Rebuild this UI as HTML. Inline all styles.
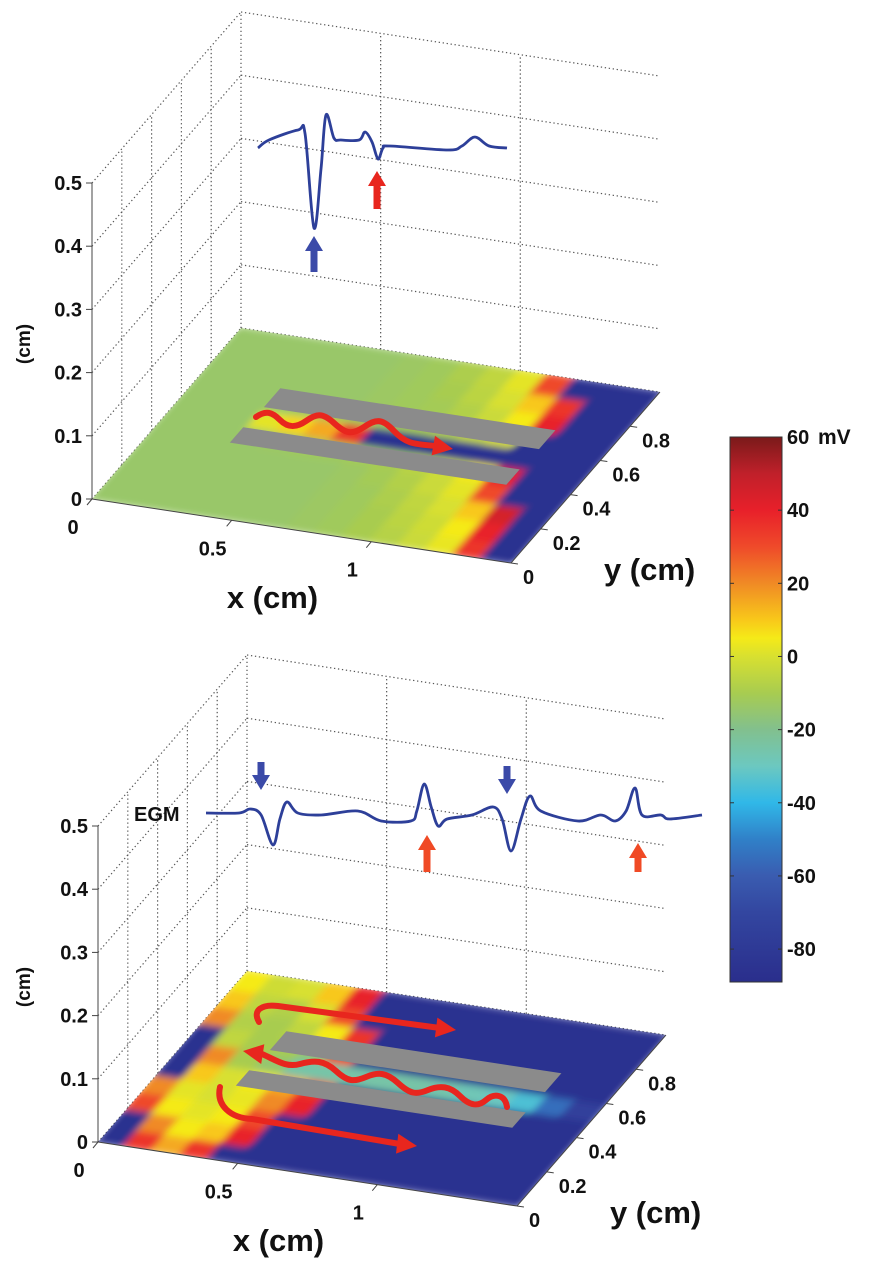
<!DOCTYPE html>
<html><head><meta charset="utf-8">
<style>
html,body{margin:0;padding:0;background:#fff;}
svg{display:block;font-family:"Liberation Sans",Arial,sans-serif;font-weight:bold;}
</style></head>
<body>
<svg id="fig" width="874" height="1282" viewBox="0 0 874 1282" xmlns="http://www.w3.org/2000/svg">
<defs>
<filter id="blur" x="-5%" y="-5%" width="110%" height="110%"><feGaussianBlur stdDeviation="0.014 0.02"/></filter>
<linearGradient id="cbgrad" x1="0" y1="0" x2="0" y2="1"></linearGradient>
</defs>
</svg>
<script>
// ---- data ----
var zTicks = [0, 0.1, 0.2, 0.3, 0.4, 0.5];
var xTicks = [0, 0.5, 1];
var xTickLabels = ["0", "0.5", "1"];
var yTicks = [0, 0.2, 0.4, 0.6, 0.8];
var cbTicks = [60, 40, 20, 0, -20, -40, -60, -80];
// heat grid: rows v = 0.05..0.95, cols u = 0.05..1.45 (mV)
var heatTop = [
[-14,-14,-14,-14,-14,-14,-14,-13,-12,-10,-7,-3,3,35,-85],
[-14,-14,-14,-14,-14,-14,-14,-13,-12,-10,-6,-2,5,40,-85],
[-14,-14,-14,-14,-14,-14,-14,-13,-12,-9,-5,0,10,45,-85],
[-14,-14,-14,-14,-14,-14,-14,-13,-11,-8,-3,2,30,-85,-85],
[-14,-14,-14,-14,-13,-12,-12,-11,-10,-6,-2,5,40,-85,-85],
[-14,-14,-14,2,8,15,35,-85,-85,-85,-85,-85,-85,-85,-85],
[-14,-14,-14,-14,-13,-12,-12,-11,-10,-8,-4,0,-85,-85,-85],
[-14,-14,-14,-14,-14,-14,-13,-12,-11,-8,-3,5,40,-85,-85],
[-14,-14,-14,-14,-14,-14,-13,-12,-10,-6,0,10,35,-85,-85],
[-14,-14,-14,-14,-14,-14,-13,-12,-9,-5,2,30,-85,-85,-85]
];
var heatBottom = [
[-85,35,15,35,-85,-85,-85,-85,-85,-85,-85,-85,-85,-85,-85],
[-85,20,5,10,40,-85,-85,-85,-85,-85,-85,-85,-85,-85,-85],
[30,5,2,5,30,-85,-85,-85,-85,-85,-85,-85,-85,-85,-85],
[20,2,0,3,20,40,-85,-85,-85,-85,-85,-85,-85,-85,-85],
[-85,10,0,5,15,35,-85,-85,-85,-85,-85,-85,-85,-85,-85],
[-85,20,-10,-15,-25,-25,-25,-25,-25,-26,-28,-30,-35,-55,-75],
[-85,-5,-10,-10,-15,30,-85,-85,-85,-85,-85,-85,-85,-85,-85],
[20,-8,-10,-5,5,35,-85,-85,-85,-85,-85,-85,-85,-85,-85],
[10,-5,-8,0,30,-85,-85,-85,-85,-85,-85,-85,-85,-85,-85],
[5,-2,0,10,40,-85,-85,-85,-85,-85,-85,-85,-85,-85,-85]
];
var egmTopT = [0,4.4,16.1,18.9,22.5,25.3,27.3,30.5,33.3,40.6,43,45.8,48.2,50.2,53,76.3,81.9,87.1,92.8,100];
var egmTopA = [0,8,18,14,-80,-21,33,10,8,8,16,6,-11,0,2,-2,2,11,2,0];
var egmBotT = [0,6.7,8.9,11.1,13.5,14.9,16.3,18.5,23.2,30.6,35.3,41.3,42.5,44,45.4,46.8,48.6,53.6,57.9,59.7,61.5,63.5,65.3,67.5,75,79.6,82.5,84.7,86.5,87.9,91.7,93.5,100];
var egmBotA = [2,2,6,0,-30,-4,13,2,0,4,-6,-6,4,31,8,-11,-4,0,8,-4,-36,-4,19,4,-6,0,-6,4,27,0,0,-4,0];
var barsUV = [[0.29,1.275,0.61,0.72],[0.28,1.27,0.40,0.49]];

// ---- colormap ----
var cmapV = [60,50,40,30,20,10,5,0,-10,-20,-30,-40,-50,-60,-70,-89];
var cmapC = ["#7a1a1a","#c0202a","#e8202a","#ef4a2a","#f08a25","#f8c81a","#f5ea18","#d8e030","#a8cc50","#82c08e","#6cc8c0","#30b8e8","#3080c8","#3a5cb0","#3346a0","#2a2e8c"];
function hex(c){return [parseInt(c.substr(1,2),16),parseInt(c.substr(3,2),16),parseInt(c.substr(5,2),16)];}
function cmap(v){
  if(v>=cmapV[0]) return cmapC[0];
  for(var i=0;i<cmapV.length-1;i++){
    if(v<=cmapV[i]&&v>=cmapV[i+1]){
      var t=(cmapV[i]-v)/(cmapV[i]-cmapV[i+1]);var a=hex(cmapC[i]),b=hex(cmapC[i+1]);
      return "rgb("+Math.round(a[0]+(b[0]-a[0])*t)+","+Math.round(a[1]+(b[1]-a[1])*t)+","+Math.round(a[2]+(b[2]-a[2])*t)+")";
    }
  }
  return cmapC[cmapC.length-1];
}

var NS="http://www.w3.org/2000/svg";
var svg=document.getElementById('fig');
function mk(tag,attrs,parent){var e=document.createElementNS(NS,tag);for(var k in attrs)e.setAttribute(k,attrs[k]);(parent||svg).appendChild(e);return e;}

var EX=[279.3,42.7],EY=[149,-171],EZ=[0,-632];
function proj(O,u,v,z){return [O[0]+u*EX[0]+v*EY[0]+z*EZ[0],O[1]+u*EX[1]+v*EY[1]+z*EZ[1]];}
function pts(a){return a.map(function(p){return p[0].toFixed(1)+","+p[1].toFixed(1);}).join(" ");}
function smooth(P){
  var d="M"+P[0][0]+","+P[0][1];
  for(var i=0;i<P.length-1;i++){
    var p0=P[Math.max(0,i-1)],p1=P[i],p2=P[i+1],p3=P[Math.min(P.length-1,i+2)];
    var c1=[p1[0]+(p2[0]-p0[0])/6,p1[1]+(p2[1]-p0[1])/6],c2=[p2[0]-(p3[0]-p1[0])/6,p2[1]-(p3[1]-p1[1])/6];
    d+=" C"+c1[0].toFixed(1)+","+c1[1].toFixed(1)+" "+c2[0].toFixed(1)+","+c2[1].toFixed(1)+" "+p2[0].toFixed(1)+","+p2[1].toFixed(1);
  }
  return d;
}
function blockArrow(x,tipY,baseY,color,name){
  var dir=baseY>tipY?1:-1;var hl=15*dir;
  var P=[[x,tipY],[x+9,tipY+hl],[x+3.5,tipY+hl],[x+3.5,baseY],[x-3.5,baseY],[x-3.5,tipY+hl],[x-9,tipY+hl]];
  var e=mk('polygon',{points:pts(P),fill:color});
  
  
}

function panel(O,heat,id,egmT,egmA,egmX0,egmX1,egmY0){
  var g=mk('g',{});
  
  
  var dot={stroke:"#555","stroke-width":1.2,"stroke-dasharray":"1.3 2.7",fill:"none"};
  zTicks.forEach(function(z){var a=proj(O,0,1,z),b=proj(O,1.5,1,z);var l=mk('line',Object.assign({x1:a[0],y1:a[1],x2:b[0],y2:b[1]},dot),g);
    
    });
  [0,0.5,1].forEach(function(u){var a=proj(O,u,1,0),b=proj(O,u,1,0.5);var l=mk('line',Object.assign({x1:a[0],y1:a[1],x2:b[0],y2:b[1]},dot),g);
    
    });
  zTicks.forEach(function(z){var a=proj(O,0,0,z),b=proj(O,0,1,z);var l=mk('line',Object.assign({x1:a[0],y1:a[1],x2:b[0],y2:b[1]},dot),g);
    
    });
  [0.2,0.4,0.6,0.8].forEach(function(v){var a=proj(O,0,v,0),b=proj(O,0,v,0.5);var l=mk('line',Object.assign({x1:a[0],y1:a[1],x2:b[0],y2:b[1]},dot),g);
    
    });
  var corners=[proj(O,0,0,0),proj(O,1.5,0,0),proj(O,1.5,1,0),proj(O,0,1,0)];
  var cp=mk('clipPath',{id:'clip-'+id});
  mk('polygon',{points:pts(corners)},cp);
  var fg=mk('g',{'clip-path':'url(#clip-'+id+')'});
  
  
  var hm=mk('g',{transform:'matrix('+EX[0]+','+EX[1]+','+EY[0]+','+EY[1]+','+O[0]+','+O[1]+')',filter:'url(#blur)'},fg);
  for(var r=0;r<heat.length;r++)for(var c=0;c<heat[r].length;c++){
    var cell=mk('rect',{x:(c*0.1-0.01).toFixed(3),y:(r*0.1-0.01).toFixed(3),width:0.12,height:0.12,fill:cmap(heat[r][c])},hm);
    
    
  }
  barsUV.forEach(function(b){
    var P=[proj(O,b[0],b[3],0),proj(O,b[1],b[3],0),proj(O,b[1],b[2],0),proj(O,b[0],b[2],0)];
    var e=mk('polygon',{points:pts(P),fill:"#8b8b8b"});
    
    
  });
  var ax={stroke:"#444","stroke-width":1,fill:"none"};
  var o=proj(O,0,0,0),zt=proj(O,0,0,0.5),xe=proj(O,1.5,0,0),ye=proj(O,1.5,1,0);
  var za=mk('line',Object.assign({x1:o[0],y1:o[1],x2:zt[0],y2:zt[1]},ax));
  
  
  var xa=mk('line',Object.assign({x1:o[0],y1:o[1],x2:xe[0],y2:xe[1]},ax));
  
  
  var ya=mk('line',Object.assign({x1:xe[0],y1:xe[1],x2:ye[0],y2:ye[1]},ax));
  
  
  zTicks.forEach(function(z){var p=proj(O,0,0,z);
    mk('line',Object.assign({x1:p[0]-6,y1:p[1],x2:p[0],y2:p[1]},ax));
    var t=mk('text',{x:p[0]-10,y:p[1]+7,'text-anchor':'end','font-size':20,fill:'#111'});t.textContent=String(z);
    
    });
  xTicks.forEach(function(u,i){var p=proj(O,u,0,0);
    mk('line',Object.assign({x1:p[0],y1:p[1],x2:p[0]-5,y2:p[1]+6},ax));
    var t=mk('text',{x:p[0]-19,y:p[1]+35,'text-anchor':'middle','font-size':20,fill:'#111'});t.textContent=xTickLabels[i];
    
    });
  yTicks.forEach(function(v){var p=proj(O,1.5,v,0);
    mk('line',Object.assign({x1:p[0],y1:p[1],x2:p[0]+7,y2:p[1]+1},ax));
    var t=mk('text',{x:p[0]+12,y:p[1]+21,'text-anchor':'start','font-size':20,fill:'#111'});t.textContent=String(v);
    
    });
  var xt=mk('text',{x:proj(O,0.75,0,0)[0]-29,y:proj(O,0.75,0,0)[1]+77,'text-anchor':'middle','font-size':31,fill:'#111'});xt.textContent="x (cm)";
  
  
  var yt=mk('text',{x:xe[0]+93,y:xe[1]+17,'text-anchor':'start','font-size':31,fill:'#111'});yt.textContent="y (cm)";
  
  
  var zl=mk('text',{x:0,y:0,'text-anchor':'middle','font-size':19,fill:'#111',transform:'translate(30,'+(o[1]-155)+') rotate(-90)'});zl.textContent="(cm)";
  
  
  var P=egmT.map(function(t,i){return [egmX0+(egmX1-egmX0)*t/100, egmY0-egmA[i]];});
  var tr=mk('path',{d:smooth(P),stroke:"#2d3f99","stroke-width":2.8,fill:"none","stroke-linejoin":"round"});
  
  
  return O;
}

panel([92,499],heatTop,'top-panel',egmTopT,egmTopA,258,507,148);
panel([98,1142],heatBottom,'bottom-panel',egmBotT,egmBotA,206,702,815);

blockArrow(314,236,272,"#3b4aa8","blue-arrow");
blockArrow(377,171,209,"#e8261e","red-arrow");
blockArrow(261,790,762,"#3b4aa8","blue-arrow");
blockArrow(507,794,766,"#3b4aa8","blue-arrow");
blockArrow(427,835,872,"#f04a25","red-arrow");
blockArrow(638,843,872,"#f04a25","red-arrow");
var egm=mk('text',{x:134,y:821,'font-size':20,fill:'#111'});egm.textContent="EGM";



function curveArrow(d,tip,from,name){
  var g=mk('g',{});
  
  
  mk('path',{d:d,stroke:"#e8261e","stroke-width":6,fill:"none","stroke-linecap":"round"},g);
  var dx=tip[0]-from[0],dy=tip[1]-from[1],L=Math.sqrt(dx*dx+dy*dy);dx/=L;dy/=L;
  var b=[tip[0]-dx*20,tip[1]-dy*20];
  mk('polygon',{points:pts([tip,[b[0]-dy*10,b[1]+dx*10],[b[0]+dy*10,b[1]-dx*10]]),fill:"#e8261e"},g);
}
curveArrow("M256,417 C266,410 272,412 280,420 S296,428 306,421 S322,412 334,423 S352,435 364,427 S382,418 394,431 S414,444 436,446",[453,449],[436,446],"wave-arrow-top");
curveArrow("M259,1022 C252,1010 262,1004 278,1006 L440,1028",[456,1030],[440,1028],"upper-arrow-bottom");
curveArrow("M220,1087 C216,1105 230,1118 252,1119 L400,1144",[417,1146],[400,1144],"lower-arrow-bottom");
curveArrow("M507,1107 C505,1094 494,1093 486,1100 S470,1106 460,1096 S440,1085 428,1090 S410,1094 398,1083 S378,1072 366,1077 S348,1082 336,1071 S314,1060 300,1064 S276,1060 262,1054",[243,1051],[262,1054],"wave-arrow-bottom");

var cbTop=437,cbBot=982,cbX=730,cbW=52,vMax=60,vMin=-89;
function cbY(v){return cbTop+(vMax-v)/(vMax-vMin)*(cbBot-cbTop);}
var grad=document.getElementById('cbgrad');
cmapV.forEach(function(v,i){mk('stop',{offset:((vMax-v)/(vMax-vMin)).toFixed(4),'stop-color':cmapC[i]},grad);});
var cb=mk('rect',{x:cbX,y:cbTop,width:cbW,height:cbBot-cbTop,fill:'url(#cbgrad)',stroke:'#333','stroke-width':1});


cbTicks.forEach(function(v){var y=cbY(v);
  mk('line',{x1:cbX,y1:y,x2:cbX+4,y2:y,stroke:'#333'});
  mk('line',{x1:cbX+cbW-4,y1:y,x2:cbX+cbW,y2:y,stroke:'#333'});
  var t=mk('text',{x:cbX+cbW+5,y:y+7,'font-size':20,fill:'#111'});t.textContent=String(v);
  
  });
var mv=mk('text',{x:818,y:cbTop+7,'font-size':21,fill:'#111'});mv.textContent="mV";


</script>
</body></html>
